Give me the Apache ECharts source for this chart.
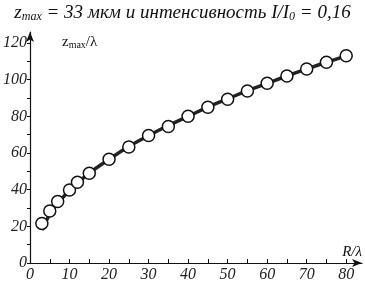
<!DOCTYPE html>
<html>
<head>
<meta charset="utf-8">
<script src="https://cdn.jsdelivr.net/npm/echarts@6/dist/echarts.min.js"></script>
<style>
  html, body { margin: 0; padding: 0; background: #fff; }
  #chart { width: 365px; height: 284px; }
</style>
</head>
<body>
<div id="chart"></div>
<script>
// measured points (circles)
var pointsR = [3, 5, 7, 10, 12, 15, 20, 25, 30, 35, 40, 45, 50, 55, 60, 65, 70, 75, 80];
var pointsZ = [21.6, 28.4, 33.5, 39.8, 44, 49, 56.6, 63.3, 69.5, 74.5, 80, 85, 89.3, 93.8, 98, 102, 105.8, 109.5, 113];
// fitted curve (thick line)
var fitR = [3, 5, 7, 10, 12, 15, 20, 25, 30, 35, 40, 45, 50, 55, 60, 65, 70, 75, 80, 81];
var fitZ = [18, 26.5, 32.5, 39.5, 43.5, 49, 56.5, 63.5, 69.5, 75, 80, 85, 89.5, 94, 98, 102, 105.8, 109.5, 113, 114];
var xTicks = [0, 5, 10, 15, 20, 25, 30, 35, 40, 45, 50, 55, 60, 65, 70, 75, 80];
var xLabels = [0, 10, 20, 30, 40, 50, 60, 70, 80];
var yTicks = [0, 10, 20, 30, 40, 50, 60, 70, 80, 90, 100, 110, 120];
var yLabels = [0, 20, 40, 60, 80, 100, 120];

var serif = '"Liberation Serif", "DejaVu Serif", serif';

var chart = echarts.init(document.getElementById('chart'));

function pairs(xs, ys) {
  var res = [];
  for (var i = 0; i < xs.length; i++) {
    res.push([xs[i], ys[i]]);
  }
  return res;
}

var option = {
  animation: false,
  backgroundColor: '#fff',
  title: {
    text: '{i|z}{s|max}{i| = 33 мкм и интенсивность I/I}{s|0}{i| = 0,16}',
    left: 'center',
    top: -2,
    textStyle: {
      fontWeight: 'normal',
      rich: {
        i: { fontFamily: serif, fontStyle: 'italic', fontWeight: 'normal', fontSize: 19, color: '#111' },
        s: { fontFamily: serif, fontStyle: 'italic', fontWeight: 'normal', fontSize: 12, color: '#111', verticalAlign: 'bottom', padding: [8, 0, 0, 0] }
      }
    }
  },
  grid: { left: 30, right: 3, top: 32, bottom: 21 },
  xAxis: {
    type: 'value',
    min: 0,
    max: 84,
    name: 'R/λ',
    nameLocation: 'end',
    nameGap: 0,
    nameTextStyle: {
      fontFamily: serif, fontStyle: 'italic', fontSize: 15, color: '#111',
      align: 'right', verticalAlign: 'bottom', padding: [0, 0, 3, 0]
    },
    splitLine: { show: false },
    axisLine: { lineStyle: { color: '#111', width: 1.2 }, symbol: ['none', 'arrow'], symbolSize: [6, 10] },
    axisTick: { inside: true, length: 4, customValues: xTicks, lineStyle: { color: '#111' } },
    axisLabel: {
      customValues: xLabels,
      margin: 4,
      fontFamily: serif, fontStyle: 'italic', fontSize: 16, color: '#222'
    }
  },
  yAxis: {
    type: 'value',
    min: 0,
    max: 126,
    name: '{n|z}{s|max}{n|/λ}',
    nameLocation: 'end',
    nameGap: -10,
    nameTextStyle: {
      align: 'left',
      verticalAlign: 'middle',
      padding: [0, 0, 0, 32],
      rich: {
        n: { fontFamily: serif, fontSize: 15, color: '#111' },
        s: { fontFamily: serif, fontSize: 10, color: '#111', verticalAlign: 'bottom', padding: [6, 0, 0, 0] }
      }
    },
    splitLine: { show: false },
    axisLine: { lineStyle: { color: '#111', width: 1.2 }, symbol: ['none', 'arrow'], symbolSize: [6, 10] },
    axisTick: { length: 3, customValues: yTicks, lineStyle: { color: '#111' } },
    axisLabel: {
      customValues: yLabels,
      margin: 3,
      fontFamily: serif, fontStyle: 'italic', fontSize: 16, color: '#222'
    }
  },
  series: [
    {
      type: 'line',
      data: pairs(fitR, fitZ),
      smooth: true,
      showSymbol: false,
      lineStyle: { color: '#222', width: 3.5 },
      z: 1
    },
    {
      type: 'scatter',
      data: pairs(pointsR, pointsZ),
      symbol: 'circle',
      symbolSize: 12,
      itemStyle: { color: '#fff', opacity: 1, borderColor: '#111', borderWidth: 1.5 },
      z: 2
    }
  ]
};

chart.setOption(option);
</script>
</body>
</html>
